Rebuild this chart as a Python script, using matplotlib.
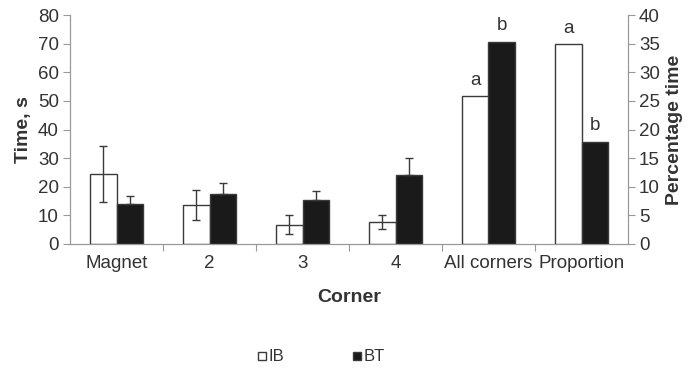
import numpy as np
import matplotlib
matplotlib.use("Agg")
import matplotlib.pyplot as plt
from matplotlib.lines import Line2D

plt.rcParams['font.family'] = ['Liberation Sans', 'DejaVu Sans']

## data
categories = ["Magnet", "2", "3", "4", "All corners", "Proportion"]

# seconds (left axis) for the first five groups
ib_time = [24.3, 13.6, 6.8, 7.6, 51.8]
ib_err = [9.8, 5.2, 3.4, 2.5, 0]
bt_time = [13.9, 17.5, 15.5, 24.0, 70.7]
bt_err = [2.9, 3.8, 3.0, 6.0, 0]

# percent (right axis) for the last group
ib_pct = 34.9
bt_pct = 17.9

letters_ib = ["a", "a"]   # all corners, proportion
letters_bt = ["b", "b"]

edge = "#3a3a3a"
txt = "#333333"
fs = 13.5

fig = plt.figure(figsize=(6.96, 3.71), dpi=100)
ax = fig.add_axes([70/696, 1 - 244/371, 558/696, 229/371])
ax2 = ax.twinx()

x = np.arange(len(categories))
w = 0.29

# time groups
xt = x[:5]
ax.bar(xt - w/2, ib_time, w, color="white", edgecolor=edge, linewidth=1.0, zorder=2)
ax.bar(xt + w/2, bt_time, w, color="#1a1a1a", edgecolor=edge, linewidth=1.0, zorder=2)
ax.errorbar(xt[:4] - w/2, ib_time[:4], yerr=ib_err[:4], fmt="none", ecolor=edge,
            elinewidth=1.0, capsize=3, capthick=1.0, zorder=3)
ax.errorbar(xt[:4] + w/2, bt_time[:4], yerr=[np.zeros(4), bt_err[:4]], fmt="none",
            ecolor=edge, elinewidth=1.0, capsize=3, capthick=1.0, zorder=3)

# proportion group on percent axis
ax2.bar(x[5] - w/2, ib_pct, w, color="white", edgecolor=edge, linewidth=1.0, zorder=2)
ax2.bar(x[5] + w/2, bt_pct, w, color="#1a1a1a", edgecolor=edge, linewidth=1.0, zorder=2)

# significance letters
ax.text(x[4] - w/2, ib_time[4] + 2.5, letters_ib[0], ha="center", va="bottom", fontsize=fs, color=txt)
ax.text(x[4] + w/2, bt_time[4] + 2.5, letters_bt[0], ha="center", va="bottom", fontsize=fs, color=txt)
ax2.text(x[5] - w/2, ib_pct + 1.25, letters_ib[1], ha="center", va="bottom", fontsize=fs, color=txt)
ax2.text(x[5] + w/2, bt_pct + 1.25, letters_bt[1], ha="center", va="bottom", fontsize=fs, color=txt)

ax.set_xlim(-0.5, len(categories) - 0.5)
ax.set_ylim(0, 80)
ax2.set_ylim(0, 40)
ax.set_yticks(np.arange(0, 81, 10))
ax2.set_yticks(np.arange(0, 41, 5))

# x ticks sit at group boundaries, labels at group centres
ax.set_xticks(np.arange(0.5, len(categories) - 0.5, 1))
ax.set_xticks(x, minor=True)
ax.set_xticklabels([])
ax.set_xticklabels(categories, minor=True)
ax.tick_params(axis="x", which="major", length=5, color="#999999")
ax.tick_params(axis="x", which="minor", length=0, labelsize=fs, labelcolor=txt, pad=8)
ax.tick_params(axis="y", length=5, color="#999999", labelsize=fs, labelcolor=txt, pad=3)
ax2.tick_params(axis="y", length=5, color="#999999", labelsize=fs, labelcolor=txt, pad=3)

for a in (ax, ax2):
    a.spines["top"].set_visible(False)
    for s in ("left", "right", "bottom"):
        a.spines[s].set_color("#999999")

ax.set_ylabel("Time, s", fontsize=14, fontweight="bold", color=txt, labelpad=4)
ax2.set_ylabel("Percentage time", fontsize=14, fontweight="bold", color=txt, labelpad=4)
ax.set_xlabel("Corner", fontsize=14, fontweight="bold", color=txt, labelpad=12)

handles = [Line2D([], [], marker="s", linestyle="none", markersize=5.5,
                  markerfacecolor="white", markeredgecolor=edge),
           Line2D([], [], marker="s", linestyle="none", markersize=5.5,
                  markerfacecolor="#1a1a1a", markeredgecolor=edge)]
fig.legend(handles, ["IB", "BT"], loc="center", bbox_to_anchor=(0.46, 0.038), ncol=2,
           frameon=False, fontsize=12, handletextpad=0.0, columnspacing=4.0, handlelength=0.8,
           labelcolor=txt)

fig.savefig("out.png", dpi=100)
